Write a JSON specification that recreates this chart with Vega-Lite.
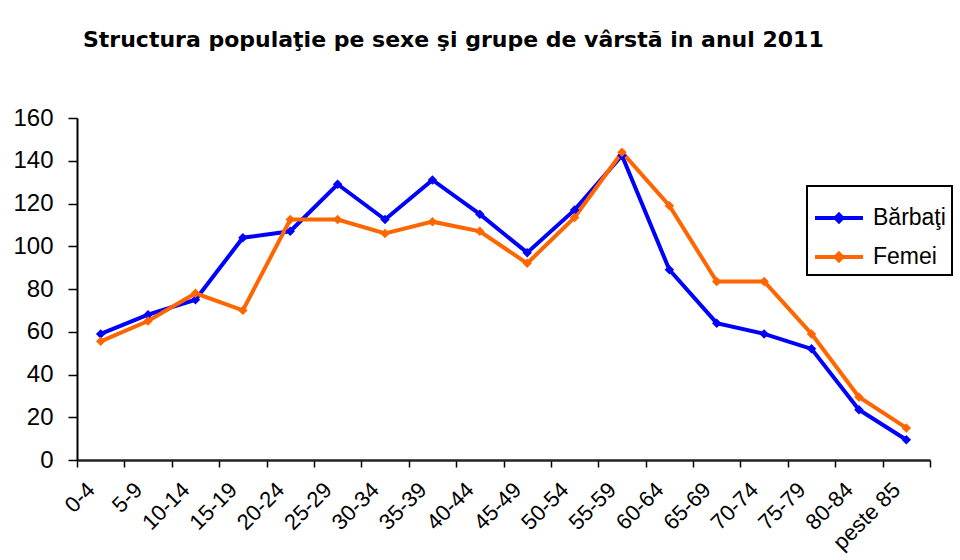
{
  "$schema": "https://vega.github.io/schema/vega-lite/v6.json",
  "width": 853,
  "height": 342,
  "autosize": "none",
  "padding": {"left": 77, "top": 118, "right": 30, "bottom": 100},
  "background": "white",
  "config": {
    "view": {"stroke": null},
    "font": "Liberation Sans"
  },
  "title": {
    "text": "Structura populaţie pe sexe şi grupe de vârstă in anul 2011",
    "anchor": "start",
    "frame": "group",
    "font": "DejaVu Sans",
    "fontSize": 22,
    "fontWeight": "bold",
    "color": "black",
    "baseline": "alphabetic",
    "offset": 37,
    "dx": 6
  },
  "data": {
    "values": [
      {"grupa": "0-4", "sex": "Bărbaţi", "valoare": 59},
      {"grupa": "5-9", "sex": "Bărbaţi", "valoare": 68},
      {"grupa": "10-14", "sex": "Bărbaţi", "valoare": 75},
      {"grupa": "15-19", "sex": "Bărbaţi", "valoare": 104},
      {"grupa": "20-24", "sex": "Bărbaţi", "valoare": 107},
      {"grupa": "25-29", "sex": "Bărbaţi", "valoare": 129},
      {"grupa": "30-34", "sex": "Bărbaţi", "valoare": 112.5},
      {"grupa": "35-39", "sex": "Bărbaţi", "valoare": 131},
      {"grupa": "40-44", "sex": "Bărbaţi", "valoare": 115},
      {"grupa": "45-49", "sex": "Bărbaţi", "valoare": 97},
      {"grupa": "50-54", "sex": "Bărbaţi", "valoare": 117},
      {"grupa": "55-59", "sex": "Bărbaţi", "valoare": 142.5},
      {"grupa": "60-64", "sex": "Bărbaţi", "valoare": 89},
      {"grupa": "65-69", "sex": "Bărbaţi", "valoare": 64},
      {"grupa": "70-74", "sex": "Bărbaţi", "valoare": 59},
      {"grupa": "75-79", "sex": "Bărbaţi", "valoare": 52},
      {"grupa": "80-84", "sex": "Bărbaţi", "valoare": 23.5},
      {"grupa": "peste 85", "sex": "Bărbaţi", "valoare": 9.5},
      {"grupa": "0-4", "sex": "Femei", "valoare": 55.5},
      {"grupa": "5-9", "sex": "Femei", "valoare": 65},
      {"grupa": "10-14", "sex": "Femei", "valoare": 78},
      {"grupa": "15-19", "sex": "Femei", "valoare": 70},
      {"grupa": "20-24", "sex": "Femei", "valoare": 112.5},
      {"grupa": "25-29", "sex": "Femei", "valoare": 112.5},
      {"grupa": "30-34", "sex": "Femei", "valoare": 106},
      {"grupa": "35-39", "sex": "Femei", "valoare": 111.5},
      {"grupa": "40-44", "sex": "Femei", "valoare": 107},
      {"grupa": "45-49", "sex": "Femei", "valoare": 92},
      {"grupa": "50-54", "sex": "Femei", "valoare": 113.5},
      {"grupa": "55-59", "sex": "Femei", "valoare": 144},
      {"grupa": "60-64", "sex": "Femei", "valoare": 119},
      {"grupa": "65-69", "sex": "Femei", "valoare": 83.5},
      {"grupa": "70-74", "sex": "Femei", "valoare": 83.5},
      {"grupa": "75-79", "sex": "Femei", "valoare": 59},
      {"grupa": "80-84", "sex": "Femei", "valoare": 29.5},
      {"grupa": "peste 85", "sex": "Femei", "valoare": 15}
    ]
  },
  "mark": {
    "type": "line",
    "strokeWidth": 4,
    "point": {"shape": "diamond", "size": 90, "filled": true}
  },
  "encoding": {
    "x": {
      "field": "grupa",
      "type": "nominal",
      "sort": null,
      "bandPosition": 0.5,
      "scale": {"type": "band", "paddingInner": 0, "paddingOuter": 0},
      "axis": {
        "title": null,
        "tickBand": "extent",
        "domainColor": "#222222",
        "domainWidth": 2.5,
        "tickColor": "black",
        "tickWidth": 1.5,
        "tickSize": 7,
        "labelAngle": -45,
        "labelAlign": "right",
        "labelBaseline": "middle",
        "labelFontSize": 22,
        "labelColor": "black",
        "labelOffset": -10,
        "labelPadding": 19,
        "grid": false
      }
    },
    "y": {
      "field": "valoare",
      "type": "quantitative",
      "scale": {"domain": [0, 160], "nice": false},
      "axis": {
        "title": null,
        "values": [0, 20, 40, 60, 80, 100, 120, 140, 160],
        "domainColor": "black",
        "domainWidth": 2,
        "tickColor": "black",
        "tickWidth": 1.5,
        "tickSize": 9,
        "labelPadding": 15,
        "labelFontSize": 24,
        "labelColor": "black",
        "grid": false
      }
    },
    "color": {
      "field": "sex",
      "type": "nominal",
      "scale": {"domain": ["Bărbaţi", "Femei"], "range": ["#0000FF", "#FF6600"]},
      "legend": {
        "title": null,
        "orient": "none",
        "legendX": 730,
        "legendY": 68,
        "strokeColor": "black",
        "fillColor": "white",
        "padding": 6,
        "symbolType": "M-1,0L1,0M0,-0.14L0.14,0L0,0.14L-0.14,0Z",
        "symbolSize": 2304,
        "symbolStrokeWidth": 4,
        "labelFontSize": 23,
        "labelColor": "black",
        "labelOffset": 8,
        "rowPadding": 1,
        "encode": {
          "legend": {
            "update": {
              "strokeWidth": {"value": 2}
            }
          },
          "symbols": {
            "update": {
              "fill": {"scale": "color", "field": "value"},
              "stroke": {"scale": "color", "field": "value"}
            }
          }
        }
      }
    }
  }
}
